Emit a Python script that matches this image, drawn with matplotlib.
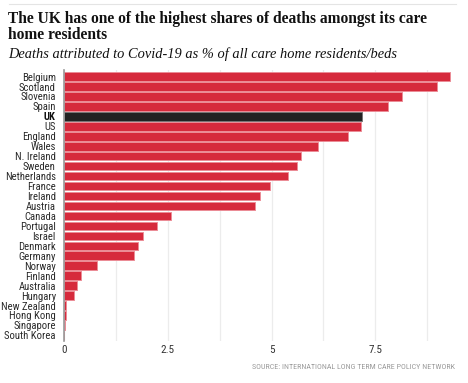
"""
Care home deaths from Covid-19 as a share of residents, by country.
"""

import numpy as np
from matplotlib import pyplot as plt

countries = ["Belgium", "Scotland", "Slovenia", "Spain", "UK", "US", "England",
             "Wales", "N. Ireland", "Sweden", "Netherlands", "France", "Ireland",
             "Austria", "Canada", "Portugal", "Israel", "Denmark", "Germany",
             "Norway", "Finland", "Australia", "Hungary", "New Zealand",
             "Hong Kong", "Singapore", "South Korea"]
shares = [9.3, 9.0, 8.14, 7.81, 7.19, 7.15, 6.85, 6.13, 5.72, 5.61, 5.4, 4.96,
          4.72, 4.61, 2.58, 2.24, 1.9, 1.77, 1.69, 0.79, 0.41, 0.31, 0.25,
          0.04, 0.04, 0.02, 0.0]
highlight = "UK"
xticks = [0, 2.5, 5, 7.5]
xtick_labels = ["0", "2.5", "5", "7.5"]

RED = "#d62a3c"
RED_EDGE = "#ec8c96"
DARK = "#222222"
EDGE_DARK = "#777777"
SANS = ["Roboto Condensed", "DejaVu Sans"]
SERIF = ["Liberation Serif", "DejaVu Serif"]


def main():
    fig = plt.figure(figsize=(4.68, 3.83), dpi=100)
    ax = fig.add_axes([0.137, 0.11, 0.835, 0.707])

    y = np.arange(len(countries))
    colors = [DARK if c == highlight else RED for c in countries]
    edges = [EDGE_DARK if c == highlight else RED_EDGE for c in countries]
    ax.barh(y, shares, height=0.86, color=colors, edgecolor=edges,
            linewidth=0.7, zorder=3)

    ax.set_xlim(0, 9.42)
    ax.set_ylim(len(countries) - 0.45, -0.65)

    # gridlines every 1.25, labels every 2.5
    ax.set_xticks(np.arange(1.25, 9.4, 1.25), minor=True)
    ax.set_xticks(xticks)
    ax.set_xticklabels(xtick_labels, family=SANS, fontsize=8, color="#333333")
    ax.grid(axis="x", which="both", color="#ececec", linewidth=0.9, zorder=0)
    ax.tick_params(axis="x", which="both", length=0, pad=3)

    ax.set_yticks(y)
    ax.set_yticklabels(countries, family=SANS, fontsize=7.7, color="#2a2a2a")
    ax.tick_params(axis="y", length=0, pad=6)
    for lab in ax.get_yticklabels():
        if lab.get_text() == highlight:
            lab.set_fontweight("bold")
            lab.set_color("#111111")

    for side in ["top", "right", "bottom"]:
        ax.spines[side].set_visible(False)
    ax.spines["left"].set_color("#999999")
    ax.spines["left"].set_linewidth(1.2)
    ax.spines["left"].set_zorder(4)

    # header
    fig.add_artist(plt.Line2D([0.02, 0.975], [0.989, 0.989],
                              color="#e4e4e4", linewidth=0.8))
    fig.text(0.017, 0.97, "The UK has one of the highest shares of deaths amongst its care\nhome residents",
             family=SERIF, fontweight="bold", fontsize=11.2,
             va="top", ha="left", color="#111111", linespacing=0.98)
    fig.text(0.017, 0.878, "Deaths attributed to Covid-19 as % of all care home residents/beds",
             family=SERIF, style="italic", fontsize=10.4,
             va="top", ha="left", color="#111111")

    fig.text(0.972, 0.035, "SOURCE: INTERNATIONAL LONG TERM CARE POLICY NETWORK",
             family=SANS, fontsize=5.8, color="#9a9a9a", ha="right", va="bottom")

    fig.savefig("out.png", dpi=100)


if __name__ == "__main__":
    main()
